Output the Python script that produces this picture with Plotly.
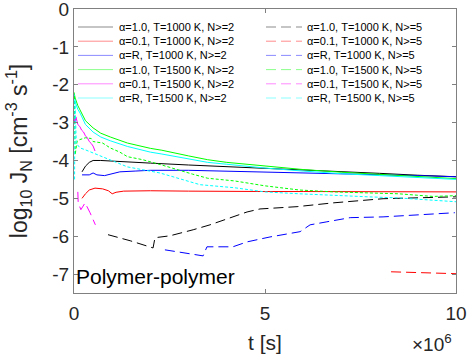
import plotly.graph_objects as go

# values (t in s, log10 J_N)

# N >= 2 (solid lines)
t_a10_1000_n2 = [0.21e6, 0.3e6, 0.4e6, 0.5e6, 0.7e6, 1.0e6, 1.5e6, 2.0e6, 3.0e6, 4.0e6,
                 5.0e6, 6.0e6, 7.0e6, 8.0e6, 9.0e6, 10.0e6]
y_a10_1000_n2 = [-4.30, -4.15, -4.05, -4.00, -4.00, -4.02, -4.04, -4.07, -4.12, -4.16,
                 -4.21, -4.26, -4.30, -4.34, -4.39, -4.43]

t_a01_1000_n2 = [0.21e6, 0.3e6, 0.4e6, 0.55e6, 0.75e6, 0.9e6, 1.0e6, 1.1e6, 1.3e6, 1.6e6,
                 2.0e6, 3.0e6, 4.0e6, 5.0e6, 6.0e6, 7.0e6, 8.0e6, 9.0e6, 10.0e6]
y_a01_1000_n2 = [-5.00, -4.88, -4.78, -4.73, -4.75, -4.80, -4.88, -4.84, -4.81, -4.80,
                 -4.80, -4.81, -4.82, -4.82, -4.82, -4.82, -4.82, -4.82, -4.83]

t_aR_1000_n2 = [0.21e6, 0.4e6, 0.5e6, 0.6e6, 0.8e6, 1.0e6, 1.2e6, 1.6e6, 2.0e6, 3.0e6,
                4.0e6, 5.0e6, 6.0e6, 7.0e6, 8.0e6, 9.0e6, 10.0e6]
y_aR_1000_n2 = [-4.38, -4.38, -4.33, -4.38, -4.40, -4.34, -4.30, -4.28, -4.26, -4.26,
                -4.28, -4.30, -4.33, -4.35, -4.38, -4.40, -4.43]

t_a10_1500_n2 = [0, 0.03e6, 0.1e6, 0.16e6, 0.3e6, 0.5e6, 0.7e6, 0.95e6, 1.4e6, 2.0e6,
                 2.3e6, 3.0e6, 3.5e6, 4.0e6, 5.0e6, 6.0e6, 7.0e6, 8.0e6, 9.0e6, 10.0e6]
y_a10_1500_n2 = [-2.20, -2.35, -2.55, -2.68, -2.95, -3.14, -3.28, -3.38, -3.54, -3.68,
                 -3.73, -3.88, -3.98, -4.05, -4.15, -4.24, -4.31, -4.37, -4.43, -4.48]

t_a01_1500_n2 = [0, 0.02e6, 0.05e6, 0.1e6, 0.15e6, 0.2e6, 0.25e6, 0.3e6, 0.35e6, 0.4e6,
                 0.45e6, 0.5e6, 0.55e6]
y_a01_1500_n2 = [-2.80, -3.00, -2.85, -3.05, -3.10, -3.20, -3.25, -3.35, -3.40, -3.50,
                 -3.55, -3.62, -3.75]

t_aR_1500_n2 = [0, 0.03e6, 0.1e6, 0.16e6, 0.3e6, 0.5e6, 0.7e6, 0.95e6, 1.4e6, 2.0e6,
                2.3e6, 3.0e6, 3.5e6, 4.0e6, 5.0e6, 6.0e6, 7.0e6, 8.0e6, 9.0e6, 10.0e6]
y_aR_1500_n2 = [-2.25, -2.45, -2.65, -2.75, -3.05, -3.25, -3.38, -3.48, -3.63, -3.78,
                -3.83, -3.95, -4.05, -4.10, -4.20, -4.28, -4.35, -4.40, -4.45, -4.50]

# N >= 5 (dashed lines)
t_a10_1000_n5 = [0.89e6, 1.47e6, 2.07e6, 2.12e6, 2.51e6, 2.85e6, 3.12e6, 3.56e6, 3.95e6,
                 4.53e6, 4.87e6, 5.84e6, 6.78e6, 8.09e6, 10.0e6]
y_a10_1000_n5 = [-5.96, -6.12, -6.31, -6.04, -5.99, -5.91, -5.83, -5.70, -5.57,
                 -5.36, -5.28, -5.22, -5.12, -5.01, -4.96]

t_a01_1000_n5 = [8.3e6, 9.0e6, 10.0e6]
y_a01_1000_n5 = [-6.94, -6.96, -6.99]

t_aR_1000_n5 = [2.38e6, 2.9e6, 3.38e6, 3.48e6, 4.16e6, 4.53e6, 5.13e6, 5.92e6, 6.18e6,
                6.62e6, 7.23e6, 8.09e6, 8.98e6, 9.97e6]
y_aR_1000_n5 = [-6.36, -6.44, -6.52, -6.28, -6.28, -6.15, -6.02, -5.88, -5.70,
                -5.62, -5.51, -5.49, -5.44, -5.38]

t_a10_1500_n5 = [0.01e6, 0.03e6, 0.08e6, 0.15e6, 0.3e6, 0.45e6, 0.5e6, 0.75e6, 0.95e6,
                 1.2e6, 1.4e6, 1.8e6, 2.3e6, 2.7e6, 3.1e6, 3.5e6, 4.2e6, 5.0e6, 5.9e6,
                 6.8e6, 7.7e6, 8.5e6, 9.4e6, 10.0e6]
y_a10_1500_n5 = [-2.30, -3.85, -3.50, -3.45, -3.40, -3.42, -3.50, -3.54, -3.67,
                 -3.78, -3.90, -3.98, -4.12, -4.25, -4.36, -4.47, -4.54, -4.67, -4.78,
                 -4.83, -4.86, -4.88, -4.95, -4.93]

t_a01_1500_n5 = [0.1e6, 0.11e6, 0.18e6, 0.29e6, 0.42e6, 0.5e6, 0.56e6]
y_a01_1500_n5 = [-4.83, -5.12, -5.30, -5.12, -5.38, -5.57, -5.70]

t_aR_1500_n5 = [0.015e6, 0.025e6, 0.06e6, 0.16e6, 0.3e6, 0.5e6, 0.7e6, 0.94e6, 1.2e6,
                1.4e6, 2.25e6, 3.3e6, 4.2e6, 5.0e6, 5.9e6, 6.8e6, 7.7e6, 8.5e6, 9.4e6,
                10.0e6]
y_aR_1500_n5 = [-4.50, -2.40, -3.55, -3.67, -3.72, -3.80, -3.90, -3.98, -4.08,
                -4.17, -4.33, -4.64, -4.72, -4.83, -4.88, -4.91, -4.96, -4.99, -5.04,
                -5.09]

colors = ['black', 'red', 'blue', '#00ff00', '#ff00ff', '#00ffff']
labels_n2 = ['α=1.0, T=1000 K, N>=2', 'α=0.1, T=1000 K, N>=2', 'α=R, T=1000 K, N>=2',
             'α=1.0, T=1500 K, N>=2', 'α=0.1, T=1500 K, N>=2', 'α=R, T=1500 K, N>=2']
labels_n5 = ['α=1.0, T=1000 K, N>=5', 'α=0.1, T=1000 K, N>=5', 'α=R, T=1000 K, N>=5',
             'α=1.0, T=1500 K, N>=5', 'α=0.1, T=1500 K, N>=5', 'α=R, T=1500 K, N>=5']

solid_series = [(t_a10_1000_n2, y_a10_1000_n2), (t_a01_1000_n2, y_a01_1000_n2),
                (t_aR_1000_n2, y_aR_1000_n2), (t_a10_1500_n2, y_a10_1500_n2),
                (t_a01_1500_n2, y_a01_1500_n2), (t_aR_1500_n2, y_aR_1500_n2)]
dashed_series = [(t_a10_1000_n5, y_a10_1000_n5), (t_a01_1000_n5, y_a01_1000_n5),
                 (t_aR_1000_n5, y_aR_1000_n5), (t_a10_1500_n5, y_a10_1500_n5),
                 (t_a01_1500_n5, y_a01_1500_n5), (t_aR_1500_n5, y_aR_1500_n5)]

DASH = '10px,5px'
NOISY_DASH = '3px,2px'
FONT = 'Liberation Sans, Arial, Helvetica, sans-serif'

fig = go.Figure()

for (t, y), c, lab in zip(solid_series, colors, labels_n2):
    fig.add_trace(go.Scatter(x=t, y=y, mode='lines', name=lab,
                             line=dict(color=c, width=1)))

for i, ((t, y), c, lab) in enumerate(zip(dashed_series, colors, labels_n5)):
    dash = NOISY_DASH if i in (3, 5) else DASH
    fig.add_trace(go.Scatter(x=t, y=y, mode='lines', name=lab,
                             line=dict(color=c, width=1, dash=dash)))

# plot area in pixels (used for placing the MATLAB-style legend)
L, R, T, B = 74, 456, 9, 293


def px_x(px):
    return (px - L) / (R - L)


def px_y(py):
    return (B - py) / (B - T)


# two-column legend, drawn by hand to get MATLAB's tight row spacing
row_y = [27 + 14.2 * i for i in range(6)]
columns = [(78, 113, 117, labels_n2, 'solid'), (266, 302, 305, labels_n5, DASH)]
for x0, x1, xt, labs, dash in columns:
    for yy, c, lab in zip(row_y, colors, labs):
        fig.add_shape(type='line', xref='paper', yref='paper',
                      x0=px_x(x0), x1=px_x(x1), y0=px_y(yy), y1=px_y(yy),
                      line=dict(color=c, width=1, dash=dash), opacity=0.45)
        fig.add_annotation(text=lab, xref='paper', yref='paper',
                           x=px_x(xt), y=px_y(yy), xanchor='left', yanchor='middle',
                           showarrow=False, font=dict(size=11, color='black'))

fig.add_annotation(text='Polymer-polymer', xref='paper', yref='paper',
                   x=0, y=0, xanchor='left', yanchor='bottom', xshift=0, yshift=3,
                   showarrow=False, font=dict(size=21, color='black'))

fig.add_annotation(text='×10<sup>6</sup>', xref='paper', yref='paper',
                   x=px_x(454), y=px_y(343), xanchor='right', yanchor='middle',
                   showarrow=False, font=dict(size=19, color='#262626'))

axis_style = dict(showgrid=False, zeroline=False, showline=True, mirror='ticks',
                  linecolor='#808080', linewidth=1, ticks='inside', ticklen=4,
                  tickcolor='#808080', ticklabeloverflow='allow', automargin=False,
                  tickfont=dict(size=19, color='#262626'))

fig.update_xaxes(range=[0, 1e7], tickvals=[0, 5e6, 1e7], ticktext=['0', '5', '10'],
                 ticklabelstandoff=3,
                 title=dict(text='t [s]', font=dict(size=21, color='#262626'), standoff=12),
                 **axis_style)
fig.update_yaxes(range=[-7.5, 0], tickvals=list(range(-7, 1)),
                 ticktext=[str(v) for v in range(-7, 1)],
                 title=dict(text='log<sub>10</sub> J<sub>N</sub> [cm<sup>-3</sup> s<sup>-1</sup>]',
                            font=dict(size=23, color='#262626'), standoff=18),
                 **axis_style)

fig.update_layout(
    width=469, height=356,
    margin=dict(l=L, r=469 - R, t=T, b=356 - B),
    plot_bgcolor='white', paper_bgcolor='white',
    font=dict(family=FONT),
    showlegend=False,
)

# the page is photographed at exactly the figure size, so drop the body margin
fig.write_html('out.html', config={'displayModeBar': False},
               post_script="document.body.style.margin='0';")
